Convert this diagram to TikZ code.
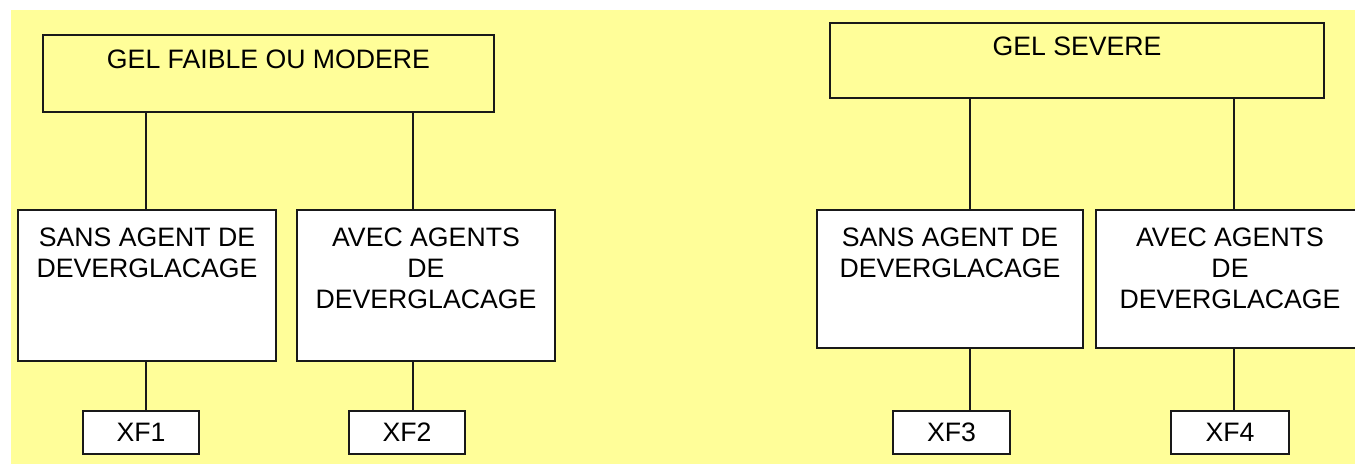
\documentclass[tikz,border=0pt]{standalone}
\usepackage{fontspec}
\setmainfont{Liberation Sans}
\definecolor{paleyellow}{RGB}{255,254,153}
\definecolor{inkline}{RGB}{25,25,25}
\begin{document}
\begin{tikzpicture}[x=0.75pt,y=-0.75pt,
  frame/.style={draw=inkline, line width=1.3pt, rectangle, inner sep=0pt},
  headbox/.style={frame, fill=paleyellow},
  casebox/.style={frame, fill=white},
  classbox/.style={frame, fill=white, minimum width=116*0.75pt, minimum height=43*0.75pt,
    font=\fontsize{20}{23}\selectfont},
  caption/.style={inner sep=0pt, align=center, font=\fontsize{20}{23}\selectfont},
  link/.style={draw=inkline, line width=1.3pt}]
\useasboundingbox (0,0) rectangle (1355,464);
% page background
\fill[paleyellow] (11,10) rectangle (1355,464);

% --- moderate frost branch ---
\node[headbox, minimum width=451*0.75pt, minimum height=77*0.75pt] (A) at (268.5,73.5) {};
\node[caption, anchor=north] (At) at (268.5,50) {GEL FAIBLE OU MODERE};
\node[casebox, minimum width=258*0.75pt, minimum height=151*0.75pt] (B1) at (147,285.5) {};
\node[caption, anchor=north] (B1t) at (147,228) {SANS AGENT DE\\DEVERGLACAGE};
\node[casebox, minimum width=258*0.75pt, minimum height=151*0.75pt] (B2) at (426,285.5) {};
\node[caption, anchor=north] (B2t) at (426,228) {AVEC AGENTS\\DE\\DEVERGLACAGE};
\node[classbox] (X1) at (141,432.5) {XF1};
\node[classbox] (X2) at (407,432.5) {XF2};

% --- severe frost branch ---
\node[headbox, minimum width=494*0.75pt, minimum height=75*0.75pt] (C) at (1077,60.5) {};
\node[caption, anchor=north] (Ct) at (1077,37) {GEL SEVERE};
\node[casebox, minimum width=266*0.75pt, minimum height=138*0.75pt] (B3) at (950,279) {};
\node[caption, anchor=north] (B3t) at (950,228) {SANS AGENT DE\\DEVERGLACAGE};
\node[casebox, minimum width=268*0.75pt, minimum height=138*0.75pt] (B4) at (1230,279) {};
\node[caption, anchor=north] (B4t) at (1230,228) {AVEC AGENTS\\DE\\DEVERGLACAGE};
\node[classbox, minimum width=117*0.75pt] (X3) at (951.5,432.5) {XF3};
\node[classbox, minimum width=118*0.75pt] (X4) at (1230,432.5) {XF4};

% vertical tracks of the connectors
\coordinate (v1) at (146,0);
\coordinate (v2) at (413,0);
\coordinate (v3) at (970,0);
\coordinate (v4) at (1234,0);

\path[link] (A.south -| v1) -- (B1.north -| v1);
\path[link] (A.south -| v2) -- (B2.north -| v2);
\path[link] (B1.south -| v1) -- (X1.north -| v1);
\path[link] (B2.south -| v2) -- (X2.north -| v2);
\path[link] (C.south -| v3) -- (B3.north -| v3);
\path[link] (C.south -| v4) -- (B4.north -| v4);
\path[link] (B3.south -| v3) -- (X3.north -| v3);
\path[link] (B4.south -| v4) -- (X4.north -| v4);
\end{tikzpicture}
\end{document}
